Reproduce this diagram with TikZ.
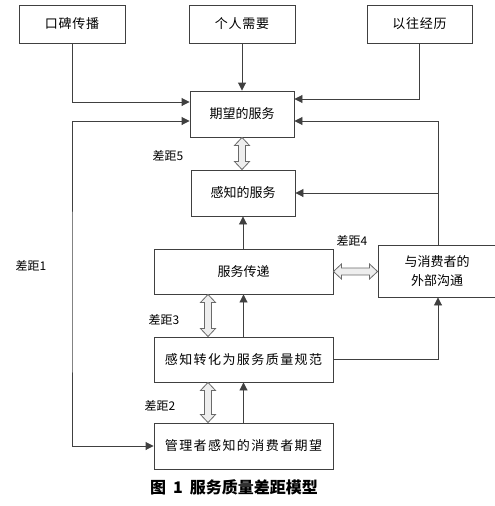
\documentclass[tikz,border=0pt]{standalone}
\usepackage{fontspec}
\setmainfont{Noto Sans CJK SC}
\usetikzlibrary{arrows.meta,calc}
\definecolor{ln}{HTML}{404040}
\definecolor{gapln}{HTML}{6A6A6A}
\definecolor{gapfill}{HTML}{EEEEEE}
\tikzset{
  box/.style={draw=ln, line width=0.9pt, inner sep=0pt, align=center,
    font=\fontsize{13}{19}\selectfont},
  longbox/.style={box, font=\fontsize{13}{19}\selectfont\addfontfeature{LetterSpace=11}},
  topbox/.style={box, font=\fontsize{13}{19}\selectfont\addfontfeature{LetterSpace=6}},
  conn/.style={draw=ln, line width=0.9pt, -{Triangle[length=8pt,width=8pt]}},
  bothconn/.style={draw=ln, line width=0.9pt, {Triangle[length=8pt,width=8pt]}-{Triangle[length=8pt,width=8pt]}},
  gapshape/.style={draw=gapln, line width=0.8pt, fill=gapfill, line join=miter},
  gaplabel/.style={inner sep=0pt, font=\fontsize{12}{14}\selectfont},
  caption/.style={inner sep=0pt, font=\fontsize{16}{18}\selectfont\bfseries}
}
\newcommand\gapVert[2]{%
  \path (#1) coordinate (gT) (#2) coordinate (gB);
  \draw[gapshape] (gT) -- ++(7.5,8) -- ++(-4,0) -- ($(gB)+(3.5,-8)$) -- ++(4,0)
    -- (gB) -- ++(-7.5,-8) -- ++(4,0) -- ($(gT)+(-3.5,8)$) -- ++(-4,0) -- cycle;}
\newcommand\gapHorz[2]{%
  \path (#1) coordinate (gL) (#2) coordinate (gR);
  \draw[gapshape] (gL) -- ++(8,-7.5) -- ++(0,4) -- ($(gR)+(-8,-3.5)$) -- ++(0,-4)
    -- (gR) -- ++(-8,7.5) -- ++(0,-4) -- ($(gL)+(8,3.5)$) -- ++(0,4) -- cycle;}
\begin{document}
\begin{tikzpicture}[x=1pt,y=-1pt]
\useasboundingbox (0,0) rectangle (495,506);
% top boxes
\node[topbox, minimum width=106pt, minimum height=38pt] (wom)  at (72,24)    {口碑传播};
\node[topbox, minimum width=106pt, minimum height=38pt] (need) at (242,24)   {个人需要};
\node[topbox, minimum width=105pt, minimum height=38pt] (past) at (419.5,24) {以往经历};
% middle column
\node[box, minimum width=104pt, minimum height=46pt] (exp)  at (242,114)  {期望的服务};
\node[box, minimum width=104pt, minimum height=46pt] (perc) at (243,193)  {感知的服务};
\node[box, minimum width=179pt, minimum height=45pt] (deliv) at (243.5,271.5) {服务传递};
\node[longbox, minimum width=179pt, minimum height=45pt] (spec) at (243.5,359.5) {感知转化为服务质量规范};
\node[longbox, minimum width=179pt, minimum height=46pt] (mgmt) at (243.5,446) {管理者感知的消费者期望};
\node[box, minimum width=118pt, minimum height=52pt] (ext) at (437,271) {与消费者的\\外部沟通};
% helper coordinates
\coordinate (lx) at (72,300);
\coordinate (gx) at (208,0);
% connectors
\draw[conn] (wom.south) |- ([yshift=12pt]exp.west);
\draw[conn] (need.south) -- (exp.north);
\draw[conn] (past.south) |- ([yshift=15pt]exp.east);
\draw[bothconn] ([yshift=-7pt]exp.west) -| (lx) |- (mgmt.west);
\draw[conn] ([xshift=1pt]ext.north) |- ([yshift=-7pt]exp.east);
\draw[conn] ([xshift=1pt]ext.north |- perc.east) -- (perc.east);
\draw[conn] (deliv.north -| perc.south) -- (perc.south);
\draw[conn] (spec.north) -- (deliv.south);
\draw[conn] (mgmt.north) -- (spec.south);
\draw[conn] (spec.east) -| ([xshift=1pt]ext.south);
% gaps
\gapVert{exp.south}{exp.south |- perc.north}
\gapHorz{deliv.east}{ext.west |- deliv.east}
\gapVert{deliv.south -| gx}{spec.north -| gx}
\gapVert{spec.south -| gx}{mgmt.north -| gx}
% labels
\node[gaplabel] (g5) at (168,156) {差距5};
\node[gaplabel] (g4) at (352,241) {差距4};
\node[gaplabel] (g3) at (164,320) {差距3};
\node[gaplabel] (g2) at (160,406) {差距2};
\node[gaplabel] (g1) at (31,266) {差距1};
\node[caption] (cap) at (234,487) {图\hspace{7pt}1\hspace{7pt}服务质量差距模型};
\end{tikzpicture}
\end{document}
